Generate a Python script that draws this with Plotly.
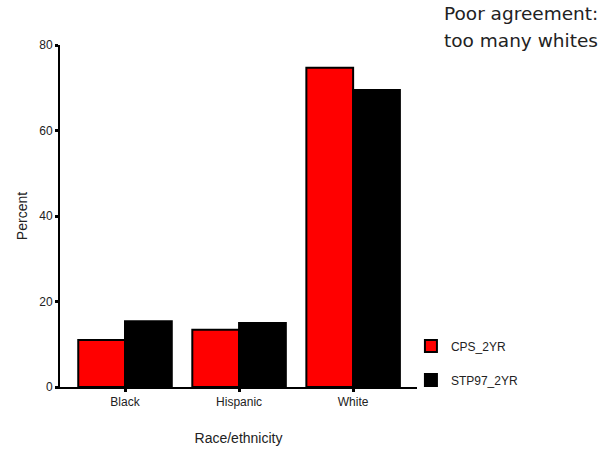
import plotly.graph_objects as go

categories = ["Black", "Hispanic", "White"]
cps_2yr = [11.0, 13.4, 74.7]
stp97_2yr = [15.4, 15.0, 69.5]
y_ticks = [0, 20, 40, 60, 80]
note_lines = ["Poor agreement:", "too many whites"]

FONT = "Liberation Sans, Arial, sans-serif"

fig = go.Figure()
fig.add_trace(go.Bar(
    name="CPS_2YR", x=categories, y=cps_2yr, legendgroup="a",
    marker=dict(color="#FF0000", line=dict(color="black", width=2)),
))
fig.add_trace(go.Bar(
    name="STP97_2YR", x=categories, y=stp97_2yr, legendgroup="b",
    marker=dict(color="#000000", line=dict(color="black", width=2)),
))

fig.update_layout(
    width=608, height=450,
    margin=dict(l=60, r=191, t=45, b=63),
    paper_bgcolor="white", plot_bgcolor="white",
    barmode="group", bargap=0.18, bargroupgap=0,
    font=dict(family=FONT, size=12, color="#222"),
    legend=dict(
        x=0.983, xanchor="left", y=0.162, yanchor="top",
        traceorder="grouped", tracegroupgap=15,
        font=dict(family=FONT, size=12, color="#222"),
        bgcolor="rgba(0,0,0,0)",
    ),
    xaxis=dict(
        range=[-0.57, 2.56], showline=True, linecolor="black", linewidth=2,
        ticks="outside", ticklen=3, tickwidth=3, tickcolor="black",
        automargin=False,
        showgrid=False, zeroline=False,
        tickfont=dict(family=FONT, size=12, color="#222"),
        title=dict(text="Race/ethnicity", font=dict(family=FONT, size=14, color="#222"), standoff=25),
    ),
    yaxis=dict(
        range=[0, 80], tickvals=y_ticks, showline=True, linecolor="black", linewidth=2,
        ticks="outside", ticklen=3, tickwidth=3, tickcolor="black",
        automargin=False,
        showgrid=False, zeroline=False,
        tickfont=dict(family=FONT, size=12, color="#222"),
        title=dict(text="Percent", font=dict(family=FONT, size=14, color="#222"), standoff=8),
    ),
    annotations=[
        dict(text=note_lines[0], xref="paper", yref="paper", x=1.07, y=(387 - 13) / 342,
             xanchor="left", yanchor="middle", showarrow=False, align="left",
             font=dict(family="DejaVu Sans, sans-serif", size=18.5, color="#222")),
        dict(text=note_lines[1], xref="paper", yref="paper", x=1.07, y=(387 - 40) / 342,
             xanchor="left", yanchor="middle", showarrow=False, align="left",
             font=dict(family="DejaVu Sans, sans-serif", size=18.5, color="#222")),
    ],
)

fig.write_html("out.html")
